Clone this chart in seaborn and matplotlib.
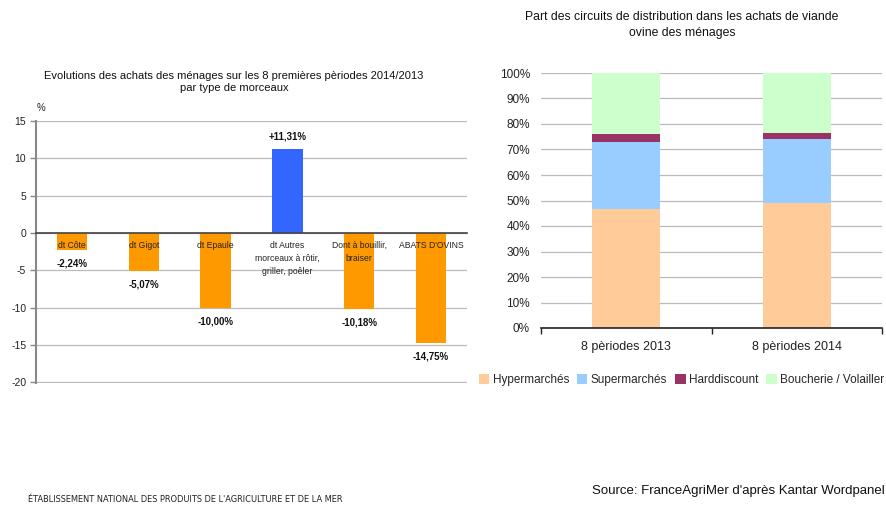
import matplotlib
matplotlib.use("Agg")
import matplotlib.pyplot as plt
import seaborn as sns
import numpy as np
import pandas as pd
from matplotlib.patches import Patch

# ---- data: left chart ----
cut_labels = ["dt Côte", "dt Gigot", "dt Epaule", "dt Autres\nmorceaux à rôtir,\ngriller, poêler",
              "Dont à bouillir,\nbraiser", "ABATS D'OVINS"]
cut_values = [-2.24, -5.07, -10.00, 11.31, -10.18, -14.75]
cut_value_labels = ["-2,24%", "-5,07%", "-10,00%", "+11,31%", "-10,18%", "-14,75%"]
left_yticks = [15, 10, 5, 0, -5, -10, -15, -20]

# ---- data: right chart ----
periods = ["8 pèriodes 2013", "8 pèriodes 2014"]
hyper = [46.8, 49.2]
super_ = [26.3, 25.0]
hard = [3.1, 2.4]
boucherie = [23.8, 23.4]
channels = ["Hypermarchés", "Supermarchés", "Harddiscount", "Boucherie / Volailler"]

sns.set_theme(style="white")
plt.rcParams['font.family'] = ['Liberation Sans', 'DejaVu Sans']

fig = plt.figure(figsize=(8.87, 5.07), dpi=100)
W, H = 887, 507

def ax_rect(x0, y0, x1, y1):
    return [x0 / W, 1 - y1 / H, (x1 - x0) / W, (y1 - y0) / H]

# ================= Left chart =================
ax1 = fig.add_axes(ax_rect(36, 121, 467, 383))
cols = ["#3366FF" if v > 0 else "#FF9900" for v in cut_values]
df1 = pd.DataFrame({"cat": [f"c{i}" for i in range(len(cut_values))], "val": cut_values})
sns.barplot(data=df1, x="cat", y="val", hue="cat", palette=cols, legend=False,
            width=0.42, ax=ax1, saturation=1, linewidth=0, edgecolor="none")
ax1.set_ylim(-20.12, 15)
ax1.set_xlim(-0.5, len(cut_values) - 0.5)
ax1.set_yticks(left_yticks)
ax1.set_yticklabels([str(t) for t in left_yticks], fontsize=7.5, color="#222222")
ax1.set_xlabel("")
ax1.set_ylabel("")
ax1.yaxis.grid(True, color="#BBBBBB", linewidth=0.9)
ax1.set_axisbelow(True)
for s in ["top", "right"]:
    ax1.spines[s].set_visible(False)
ax1.spines["left"].set_color("#888888")
ax1.spines["left"].set_linewidth(1.5)
ax1.spines["bottom"].set_position(("data", 0))
ax1.spines["bottom"].set_color("#444444")
ax1.spines["bottom"].set_linewidth(1.2)
ax1.set_xticks(np.arange(-0.5, len(cut_values), 1.0))
ax1.set_xticklabels([])
ax1.tick_params(axis="x", direction="inout", length=5, color="#444444", width=1)
ax1.tick_params(axis="y", direction="out", length=4, color="#888888", width=1, pad=3, left=True)

for i, (v, lab, cl) in enumerate(zip(cut_values, cut_value_labels, cut_labels)):
    if v < 0:
        ax1.annotate(lab, (i, v), xytext=(0, -10), textcoords="offset points",
                     ha="center", va="center", fontsize=7, fontweight="bold", color="#111111")
    else:
        ax1.annotate(lab, (i, v), xytext=(0, 9), textcoords="offset points",
                     ha="center", va="center", fontsize=7, fontweight="bold", color="#111111")
    ax1.annotate(cl, (i, 0), xytext=(0, -6), textcoords="offset points",
                 ha="center", va="top", fontsize=6.2, color="#222222", linespacing=1.55)

fig.text(37 / W, 1 - 108 / H, "%", fontsize=7, ha="left", va="center", color="#222222")
fig.text(234 / W, 1 - 82 / H, "Evolutions des achats des ménages sur les 8 premières pèriodes 2014/2013\npar type de morceaux",
         ha="center", va="center", fontsize=8.0, color="#111111", linespacing=1.3)

# ================= Right chart =================
ax2 = fig.add_axes(ax_rect(541, 73, 882, 328))
layers = [hyper, super_, hard, boucherie]
colors2 = ["#FFCC99", "#99CCFF", "#993366", "#CCFFCC"]
cum = np.cumsum(np.array(layers), axis=0)
for k in range(len(layers) - 1, -1, -1):
    dfk = pd.DataFrame({"period": periods, "val": cum[k]})
    sns.barplot(data=dfk, x="period", y="val", color=colors2[k], saturation=1,
                width=0.4, ax=ax2, linewidth=0, edgecolor="none")
ax2.set_ylim(0, 100)
ax2.set_xlim(-0.5, 1.5)
ax2.set_yticks(np.arange(0, 101, 10))
ax2.set_yticklabels([f"{t}%" for t in range(0, 101, 10)], fontsize=8.5, color="#222222")
ax2.set_xlabel("")
ax2.set_ylabel("")
ax2.yaxis.grid(True, color="#BBBBBB", linewidth=0.9)
ax2.set_axisbelow(True)
for s in ["top", "right", "left"]:
    ax2.spines[s].set_visible(False)
ax2.spines["bottom"].set_color("#222222")
ax2.spines["bottom"].set_linewidth(1.2)
ax2.set_xticks([-0.5, 0.5, 1.5])
ax2.set_xticklabels([])
ax2.tick_params(axis="x", direction="out", length=4, color="#222222", width=1, bottom=True)
ax2.tick_params(axis="y", length=0, pad=8)
for i, p in enumerate(periods):
    ax2.annotate(p, (i, 0), xytext=(0, -14), textcoords="offset points",
                 ha="center", va="center", fontsize=9, color="#222222")

fig.text(682 / W, 1 - 25 / H, "Part des circuits de distribution dans les achats de viande\novine des ménages",
         ha="center", va="center", fontsize=8.8, color="#111111", linespacing=1.55)

handles = [Patch(facecolor=c, edgecolor="none") for c in colors2]
fig.legend(handles, channels, loc="center", bbox_to_anchor=(681.5 / W, 1 - 380 / H),
           ncol=4, frameon=False, fontsize=8.5, handlelength=0.9, handleheight=0.9,
           handletextpad=0.3, columnspacing=0.65, borderaxespad=0)

# ================= Footer =================
fig.text(28 / W, 1 - 500 / H, "ÉTABLISSEMENT NATIONAL DES PRODUITS DE L'AGRICULTURE ET DE LA MER",
         ha="left", va="center", fontsize=5.95, color="#222222",
         family=["Liberation Sans Narrow", "DejaVu Sans"])
fig.text(885 / W, 1 - 491 / H, "Source: FranceAgriMer d'après Kantar Wordpanel",
         ha="right", va="center", fontsize=9.5, color="#111111")

fig.savefig("out.png", dpi=100, facecolor="white")
